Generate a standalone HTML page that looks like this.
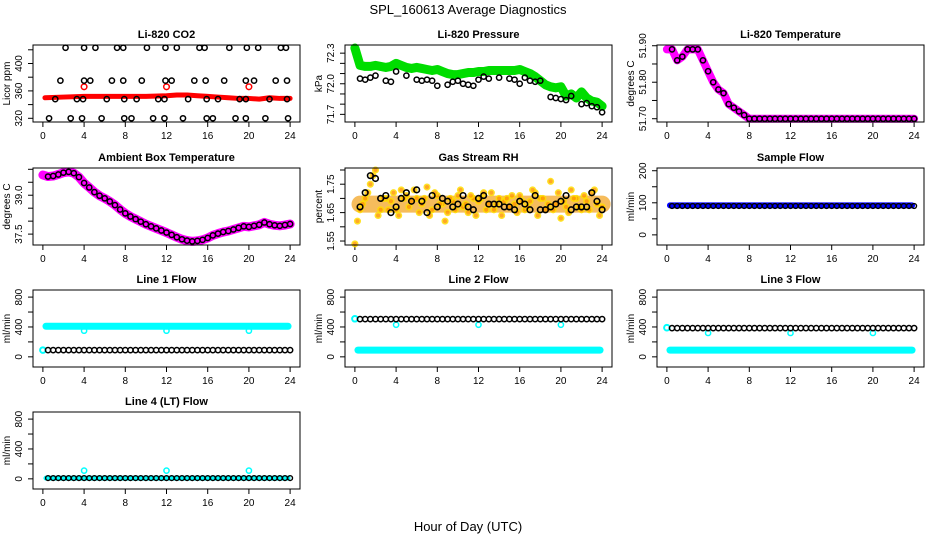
<!DOCTYPE html>
<html><head><meta charset="utf-8"><style>
html,body{margin:0;padding:0;background:#fff}
svg{display:block}
text{font-family:"Liberation Sans",Arial,sans-serif}
</style></head><body>
<svg id="chart" width="936" height="540" viewBox="0 0 936 540" xmlns="http://www.w3.org/2000/svg">
<rect x="0" y="0" width="936" height="540" fill="#fff"/>
<text x="468" y="14" font-size="13" text-anchor="middle">SPL_160613  Average Diagnostics</text>
<text x="468" y="531" font-size="13" text-anchor="middle">Hour of Day (UTC)</text>
</svg>
<script>
const xTicks=[0,4,8,12,16,20,24];
const xTickLabels=["0","4","8","12","16","20","24"];
// CO2
const co2RedX=[0.2,2,4,6,8,10,12,13,14,15,16,17,18,19,20,21,22,23,24];
const co2RedY=[350,351,352,352,352,352,353,354,354,353,352,351,350,349,349,348,350,349,349];
const co2RedDotsX=[4,12,20];
const co2RedDotsY=[366,366,366];
const co2TopX=[2.2,4.0,5.1,7.2,7.8,10.1,11.9,13.0,15.2,15.7,18.1,19.8,20.9,23.1,23.6];
const co2MidX=[1.7,4.0,4.6,6.7,7.8,9.6,11.9,12.5,14.7,15.8,17.6,19.7,20.5,22.6,23.7];
const co2LowX=[1.2,3.3,3.9,6.2,7.9,9.1,11.2,11.8,14.1,15.9,17.0,19.1,19.7,22.0,23.7];
const co2BotX=[0.6,2.7,3.8,5.7,7.9,8.6,10.7,11.8,13.6,15.9,16.5,18.7,19.7,21.6,23.8];
const co2Levels=[423,375,348,320];
// Pressure
const presGreen=[72.35,72.18,72.17,72.17,72.18,72.17,72.16,72.17,72.2,72.18,72.16,72.15,72.16,72.15,72.14,72.13,72.14,72.12,72.1,72.09,72.09,72.1,72.11,72.11,72.12,72.12,72.13,72.13,72.13,72.13,72.13,72.13,72.14,72.12,72.1,72.07,72.03,71.99,71.97,71.96,71.97,71.88,71.9,71.86,71.92,71.86,71.83,71.82,71.78];
const presBlackX=[0.5,1,1.5,2,3,3.5,4,5,6,6.5,7,7.5,8,9,9.5,10,10.5,11,11.5,12,12.5,13,14,15,15.5,16,16.5,17,17.5,18,19,19.5,20,20.5,21,22,22.5,23,23.5,24];
const presBlackY=[72.05,72.04,72.06,72.08,72.03,72.02,72.12,72.08,72.04,72.03,72.04,72.03,71.98,71.99,72.02,72.03,72.0,71.99,71.98,72.04,72.07,72.05,72.06,72.05,72.04,72.0,72.06,72.03,72.02,72.03,71.87,71.86,71.85,71.84,71.88,71.8,71.81,71.78,71.77,71.72];
// Li-820 temperature
const tempVals=[51.89,51.89,51.86,51.87,51.89,51.89,51.89,51.86,51.83,51.8,51.78,51.77,51.74,51.73,51.72,51.71,51.70,51.70,51.70,51.70,51.70,51.70,51.70,51.70,51.70,51.70,51.70,51.70,51.70,51.70,51.70,51.70,51.70,51.70,51.70,51.70,51.70,51.70,51.70,51.70,51.70,51.70,51.70,51.70,51.70,51.70,51.70,51.70,51.70];
// Ambient
const ambVals=[39.78,39.72,39.74,39.8,39.87,39.9,39.85,39.7,39.47,39.3,39.12,38.98,38.88,38.76,38.62,38.45,38.3,38.18,38.08,37.98,37.88,37.8,37.72,37.64,37.56,37.47,37.38,37.3,37.25,37.22,37.24,37.28,37.35,37.45,37.52,37.58,37.62,37.68,37.74,37.8,37.78,37.82,37.86,37.95,37.88,37.84,37.82,37.85,37.89];
// RH
const rhA=[1.54,1.66,1.70,1.75,1.80,1.66,1.70,1.69,1.66,1.73,1.71,1.69,1.70,1.68,1.74,1.66,1.71,1.68,1.65,1.69,1.71,1.67,1.65,1.70,1.69,1.72,1.68,1.66,1.70,1.69,1.67,1.68,1.71,1.66,1.69,1.72,1.70,1.66,1.76,1.68,1.63,1.67,1.73,1.70,1.66,1.69,1.72,1.68,1.67];
const rhB=[1.62,1.68,1.72,1.78,1.64,1.70,1.66,1.72,1.64,1.70,1.67,1.73,1.65,1.70,1.64,1.72,1.68,1.62,1.70,1.66,1.73,1.68,1.71,1.64,1.70,1.66,1.72,1.68,1.64,1.70,1.71,1.65,1.69,1.67,1.73,1.64,1.70,1.68,1.66,1.72,1.69,1.65,1.70,1.67,1.71,1.66,1.73,1.64];
const rhBlack=[1.67,1.72,1.78,1.77,1.70,1.71,1.65,1.67,1.70,1.72,1.69,1.73,1.69,1.65,1.71,1.67,1.70,1.69,1.67,1.68,1.71,1.67,1.66,1.70,1.71,1.68,1.68,1.68,1.67,1.67,1.66,1.69,1.68,1.66,1.71,1.66,1.66,1.67,1.68,1.69,1.71,1.66,1.67,1.67,1.67,1.72,1.69,1.66];
// Flows
const bandX=[0.3,4,8,12,16,20,23.8];
const sampleBlue=[92,92,92,92,92,92,92];
const sampleBlack=[90,90,90,90,90,90,90,90,90,90,90,90,90,90,90,90,90,90,90,90,90,90,90,90,90,90,90,90,90,90,90,90,90,90,90,90,90,90,90,90,90,90,90,90,90,90,90,90];
const line1Cyan=[410,410,410,410,410,410,410];
const line1Black=[90,90,90,90,90,90,90,90,90,90,90,90,90,90,90,90,90,90,90,90,90,90,90,90,90,90,90,90,90,90,90,90,90,90,90,90,90,90,90,90,90,90,90,90,90,90,90,90];
const line2Cyan=[90,90,90,90,90,90,90];
const line2Black=[505,505,505,505,505,505,505,505,505,505,505,505,505,505,505,505,505,505,505,505,505,505,505,505,505,505,505,505,505,505,505,505,505,505,505,505,505,505,505,505,505,505,505,505,505,505,505,505];
const line3Cyan=[90,90,90,90,90,90,90];
const line3Black=[385,385,385,385,385,385,385,385,385,385,385,385,385,385,385,385,385,385,385,385,385,385,385,385,385,385,385,385,385,385,385,385,385,385,385,385,385,385,385,385,385,385,385,385,385,385,385,385];
const line4Cyan=[10,10,10,10,10,10,10];
const line4Black=[10,10,10,10,10,10,10,10,10,10,10,10,10,10,10,10,10,10,10,10,10,10,10,10,10,10,10,10,10,10,10,10,10,10,10,10,10,10,10,10,10,10,10,10,10,10,10,10];
const dipX=[4,12,20];
const line1Dips=[350,350,350];
const line2Dips=[430,430,430];
const line3Dips=[320,320,320];
const line4Dips=[110,110,110];
const startX=[0];
const line1Start=[90];
const line2Start=[510];
const line3Start=[390];

const svg=document.getElementById('chart');
const NS='http://www.w3.org/2000/svg';
function el(tag,attrs,parent){const e=document.createElementNS(NS,tag);for(const k in attrs)e.setAttribute(k,attrs[k]);(parent||svg).appendChild(e);return e;}
const rowTop=[45,168,290,412];
function halfHours(n,off){const a=[];for(let i=0;i<n;i++)a.push(off+i*0.5);return a;}

function panel(col,row,name,title,ylab,dmin,dmax,yTicks,yLabels){
  const L=col*312+33,R=col*312+300,T=rowTop[row],B=T+77;
  const g=el('g',{});
  
  
  const x=h=>L+(h+0.96)/25.92*(R-L);
  const y=v=>B-(v-dmin)/(dmax-dmin)*(B-T);
  const t=el('text',{x:(L+R)/2,y:T-7,'font-size':11,'font-weight':'bold','text-anchor':'middle'},g);
  t.textContent=title;
  
  
  xTicks.forEach((h,i)=>{
    el('line',{x1:x(h),x2:x(h),y1:B,y2:B+5,stroke:'#000','stroke-width':1},g);
    const tl=el('text',{x:x(h),y:B+17,'font-size':10,'text-anchor':'middle'},g);
    tl.textContent=xTickLabels[i];
    
    
  });
  yTicks.forEach((v,i)=>{
    el('line',{x1:L-5,x2:L,y1:y(v),y2:y(v),stroke:'#000','stroke-width':1},g);
    if(yLabels[i]){
      const yl=el('text',{x:0,y:0,'font-size':10,'text-anchor':'middle',transform:`translate(${L-11},${y(v)}) rotate(-90)`},g);
      yl.textContent=yLabels[i];
      
      
    }
  });
  const yt=el('text',{x:0,y:0,'font-size':10,'text-anchor':'middle',transform:`translate(${L-23},${(T+B)/2}) rotate(-90)`},g);
  yt.textContent=ylab;
  
  
  const plot=el('g',{},g);
  const box=el('rect',{x:L,y:T,width:R-L,height:B-T,fill:'none',stroke:'#000','stroke-width':1},g);
  
  
  return {x,y,plot};
}
function band(p,xs,ys,color,w,name,op){
  const pl=el('polyline',{points:xs.map((h,i)=>p.x(h)+','+p.y(ys[i])).join(' '),fill:'none',stroke:color,'stroke-width':w,'stroke-linejoin':'round','stroke-linecap':'round','stroke-opacity':op||1},p.plot);
  
  
}
function pts(p,xs,ys,color,r,sw,name,fill,op){
  xs.forEach((h,i)=>{
    const c=el('circle',{cx:p.x(h),cy:p.y(ys[i]),r:r,fill:fill||'none',stroke:color,'stroke-width':sw,opacity:op||1},p.plot);
    
    
  });
}
const H49=halfHours(49,0), H48=halfHours(48,0.5);
const flowT=[0,200,400,600,800], flowL=["0","","400","","800"];

// Row 1
let p=panel(0,0,'co2','Li-820 CO2','Licor ppm',314.6,427,[320,340,360,380,400,420],["320","","360","","400",""]);
band(p,co2RedX,co2RedY,'#ff0000',5,'co2-red-series');
pts(p,co2RedDotsX,co2RedDotsY,'#ff0000',2.8,1.5,'co2-red-point');
[co2TopX,co2MidX,co2LowX,co2BotX].forEach((xs,k)=>pts(p,xs,xs.map(()=>co2Levels[k]),'#000',2.6,1.5,'co2-black-point'));

p=panel(1,0,'pressure','Li-820 Pressure','kPa',71.625,72.38,[71.7,71.8,71.9,72.0,72.1,72.2,72.3],["71.7","","","72.0","","","72.3"]);
band(p,H49,presGreen,'#00dd00',9,'pressure-green-series');
pts(p,presBlackX,presBlackY,'#000',2.6,1.5,'pressure-black-point');

p=panel(2,0,'li820-temp','Li-820 Temperature','degrees C',51.691,51.902,[51.70,51.75,51.80,51.85,51.90],["51.70","","51.80","","51.90"]);
band(p,H49,tempVals,'#ff00ff',8,'temp-magenta-series');
pts(p,H48,tempVals.slice(1),'#000',2.6,1.5,'temp-black-point');

// Row 2
p=panel(0,1,'ambient','Ambient Box Temperature','degrees C',37.08,40.05,[37.5,38,38.5,39,39.5,40],["37.5","","","39.0","",""]);
band(p,H49,ambVals,'#ff00ff',9,'ambient-magenta-series');
pts(p,H48,ambVals.slice(1),'#000',2.6,1.5,'ambient-black-point');

p=panel(1,1,'rh','Gas Stream RH','percent',1.536,1.807,[1.55,1.60,1.65,1.70,1.75,1.80],["1.55","","1.65","","1.75",""]);
band(p,H49.slice(1),rhA.slice(1).map(()=>1.68),'#f4b040',17,'rh-orange-band',0.85);
pts(p,H49,rhA,'#ffdd00',2.8,1.5,'rh-yellow-point','#ff9900',0.85);
pts(p,halfHours(48,0.25),rhB,'#ffdd00',2.8,1.5,'rh-yellow-point','#ff9900',0.85);
pts(p,H48,rhBlack,'#000',2.8,1.6,'rh-black-point');

p=panel(2,1,'sample-flow','Sample Flow','ml/min',-31.6,208.5,[0,50,100,150,200],["0","","100","","200"]);
band(p,bandX,sampleBlue,'#0000ff',6,'sample-blue-series');
pts(p,H48,sampleBlack,'#000',2.4,1.4,'sample-black-point');

// Row 3 & 4
p=panel(0,2,'line1','Line 1 Flow','ml/min',-136,895,flowT,flowL);
band(p,bandX,line1Cyan,'#00ffff',7,'line1-cyan-series');
pts(p,dipX,line1Dips,'#00ffff',2.6,1.5,'line1-cyan-point');
pts(p,startX,line1Start,'#00ffff',2.8,2,'line1-cyan-point');
pts(p,H48,line1Black,'#000',2.6,1.5,'line1-black-point');

p=panel(1,2,'line2','Line 2 Flow','ml/min',-136,895,flowT,flowL);
band(p,bandX,line2Cyan,'#00ffff',7,'line2-cyan-series');
pts(p,dipX,line2Dips,'#00ffff',2.6,1.5,'line2-cyan-point');
pts(p,startX,line2Start,'#00ffff',2.8,2,'line2-cyan-point');
pts(p,H48,line2Black,'#000',2.6,1.5,'line2-black-point');

p=panel(2,2,'line3','Line 3 Flow','ml/min',-136,895,flowT,flowL);
band(p,bandX,line3Cyan,'#00ffff',7,'line3-cyan-series');
pts(p,dipX,line3Dips,'#00ffff',2.6,1.5,'line3-cyan-point');
pts(p,startX,line3Start,'#00ffff',2.8,2,'line3-cyan-point');
pts(p,H48,line3Black,'#000',2.6,1.5,'line3-black-point');

p=panel(0,3,'line4','Line 4 (LT) Flow','ml/min',-136,895,flowT,flowL);
band(p,bandX,line4Cyan,'#00ffff',5,'line4-cyan-series');
pts(p,dipX,line4Dips,'#00ffff',2.6,1.5,'line4-cyan-point');
pts(p,H48,line4Black,'#000',2.4,1.4,'line4-black-point');
</script>
</body></html>
